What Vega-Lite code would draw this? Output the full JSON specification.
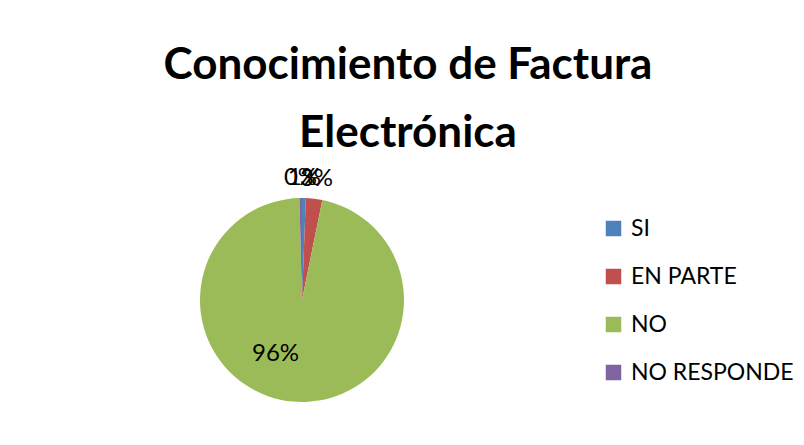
{
  "$schema": "https://vega.github.io/schema/vega-lite/v6.json",
  "autosize": "none",
  "width": 204,
  "height": 204,
  "padding": {"left": 200, "top": 198, "right": 400, "bottom": 43},
  "background": "white",
  "config": {"view": {"stroke": null}, "font": "Lato"},
  "title": {
    "text": ["Conocimiento de Factura", "Electrónica"],
    "font": "Lato",
    "fontSize": 44,
    "fontWeight": "bold",
    "color": "black",
    "lineHeight": 68,
    "anchor": "middle",
    "dx": 106,
    "offset": 10
  },
  "data": {
    "values": [
      {"categoria": "SI", "orden": 1, "pct": 0.006},
      {"categoria": "EN PARTE", "orden": 2, "pct": 0.026},
      {"categoria": "NO", "orden": 3, "pct": 0.964},
      {"categoria": "NO RESPONDE", "orden": 4, "pct": 0.004}
    ]
  },
  "encoding": {
    "theta": {"field": "pct", "type": "quantitative", "stack": true},
    "order": {"field": "orden", "type": "quantitative"}
  },
  "layer": [
    {
      "mark": {"type": "arc", "outerRadius": 102},
      "encoding": {
        "color": {
          "field": "categoria",
          "type": "nominal",
          "scale": {
            "domain": ["SI", "EN PARTE", "NO", "NO RESPONDE"],
            "range": ["#4F81BD", "#C0504D", "#9BBB59", "#8064A2"]
          },
          "legend": {
            "title": null,
            "orient": "none",
            "legendX": 402,
            "legendY": 19,
            "symbolType": "square",
            "symbolSize": 240,
            "symbolStrokeWidth": 0,
            "labelFont": "Lato",
            "labelFontSize": 23,
            "labelColor": "black",
            "labelOffset": 6,
            "labelLimit": 0,
            "rowPadding": 24
          }
        }
      }
    },
    {
      "mark": {"type": "text", "radius": 62, "dx": -21, "dy": -8, "fontSize": 24, "font": "Lato", "color": "black"},
      "encoding": {
        "text": {
          "condition": {"test": "datum.categoria == 'NO'", "field": "pct", "format": ".0%"},
          "value": ""
        }
      }
    },
    {
      "mark": {"type": "text", "radius": 122, "fontSize": 24, "font": "Lato", "color": "black"},
      "encoding": {
        "text": {
          "condition": {"test": "datum.categoria != 'NO'", "field": "pct", "format": ".0%"},
          "value": ""
        }
      }
    }
  ]
}
